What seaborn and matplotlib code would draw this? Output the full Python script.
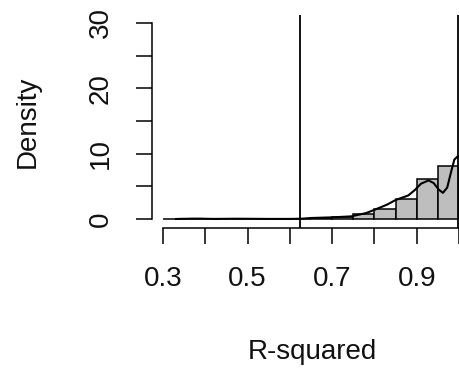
import numpy as np
import pandas as pd
import matplotlib
matplotlib.use('Agg')
import matplotlib.pyplot as plt
import seaborn as sns

# Histogram of R-squared (density scale), bins of width 0.05
bin_edges = [0.30, 0.35, 0.40, 0.45, 0.50, 0.55, 0.60, 0.65,
             0.70, 0.75, 0.80, 0.85, 0.90, 0.95, 1.00]
bin_density = [0.0, 0.02, 0.0, 0.02, 0.0, 0.0, 0.0,
               0.2, 0.3, 0.8, 1.5, 3.1, 6.1, 8.1]

# Kernel density curve
kde_x = [0.33, 0.37, 0.39, 0.42, 0.47, 0.50, 0.55, 0.60, 0.63, 0.65,
         0.70, 0.745, 0.78, 0.80, 0.83, 0.85, 0.88, 0.895, 0.91, 0.928,
         0.94, 0.952, 0.962, 0.972, 0.982, 0.989, 0.997, 1.01]
kde_y = [0.0, 0.05, 0.05, 0.01, 0.04, 0.03, 0.01, 0.01, 0.05, 0.15,
         0.25, 0.4, 0.9, 1.4, 2.2, 2.9, 3.6, 4.4, 5.4, 5.9,
         5.5, 4.5, 4.0, 4.8, 7.4, 9.1, 9.6, 9.4]

# Reference lines
vlines = [0.624, 0.998]

x_ticks = [0.3, 0.4, 0.5, 0.6, 0.7, 0.8, 0.9, 1.0]
x_ticklabels = ['0.3', '', '0.5', '', '0.7', '', '0.9', '']
y_ticks = [0, 5, 10, 15, 20, 25, 30]
y_ticklabels = ['0', '', '10', '', '20', '', '30']

sns.set_style('white')
plt.rcParams['font.family'] = ['Liberation Sans', 'DejaVu Sans']

fig = plt.figure(figsize=(4.6, 3.72), dpi=100)
ax = fig.add_axes([152 / 460, (372 - 228) / 372, 320 / 460, 213 / 372])

centers = [(a + b) / 2 for a, b in zip(bin_edges[:-1], bin_edges[1:])]
hist_df = pd.DataFrame({'x': centers, 'w': bin_density})
sns.histplot(data=hist_df, x='x', weights='w', bins=bin_edges, stat='count',
             color='#BEBEBE', edgecolor='black', linewidth=1.1, alpha=1, ax=ax)

kde_df = pd.DataFrame({'x': kde_x, 'y': kde_y})
sns.lineplot(data=kde_df, x='x', y='y', color='black', linewidth=1.5,
             estimator=None, sort=False, ax=ax)

for v in vlines:
    ax.axvline(v, color='black', linewidth=1.3)

ax.set_xlim(0.274, 1.0307)
ax.set_ylim(-1.38, 31.22)

for side in ['top', 'right']:
    ax.spines[side].set_visible(False)
ax.spines['left'].set_bounds(0, 30)
ax.spines['bottom'].set_bounds(0.3, 1.0)
for side in ['left', 'bottom']:
    ax.spines[side].set_linewidth(1.1)
    ax.spines[side].set_color('black')

ax.set_xticks(x_ticks)
ax.set_xticklabels(x_ticklabels)
ax.set_yticks(y_ticks)
ax.set_yticklabels(y_ticklabels, rotation=90, va='center')
ax.tick_params(axis='both', direction='out', length=11.5, width=1.1,
               color='black', labelsize=20, labelcolor='#111111',
               bottom=True, left=True)
ax.tick_params(axis='x', pad=16)
ax.tick_params(axis='y', pad=16)

ax.set_xlabel('R-squared', fontsize=20, color='#111111')
ax.set_ylabel('Density', fontsize=20, color='#111111')
ax.xaxis.label.set_va('center')
ax.yaxis.label.set_va('center')
ax.xaxis.set_label_coords(0.5, (228 - 352) / 213)
ax.yaxis.set_label_coords((28 - 152) / 320, 0.5)

fig.savefig('out.png', dpi=100)
